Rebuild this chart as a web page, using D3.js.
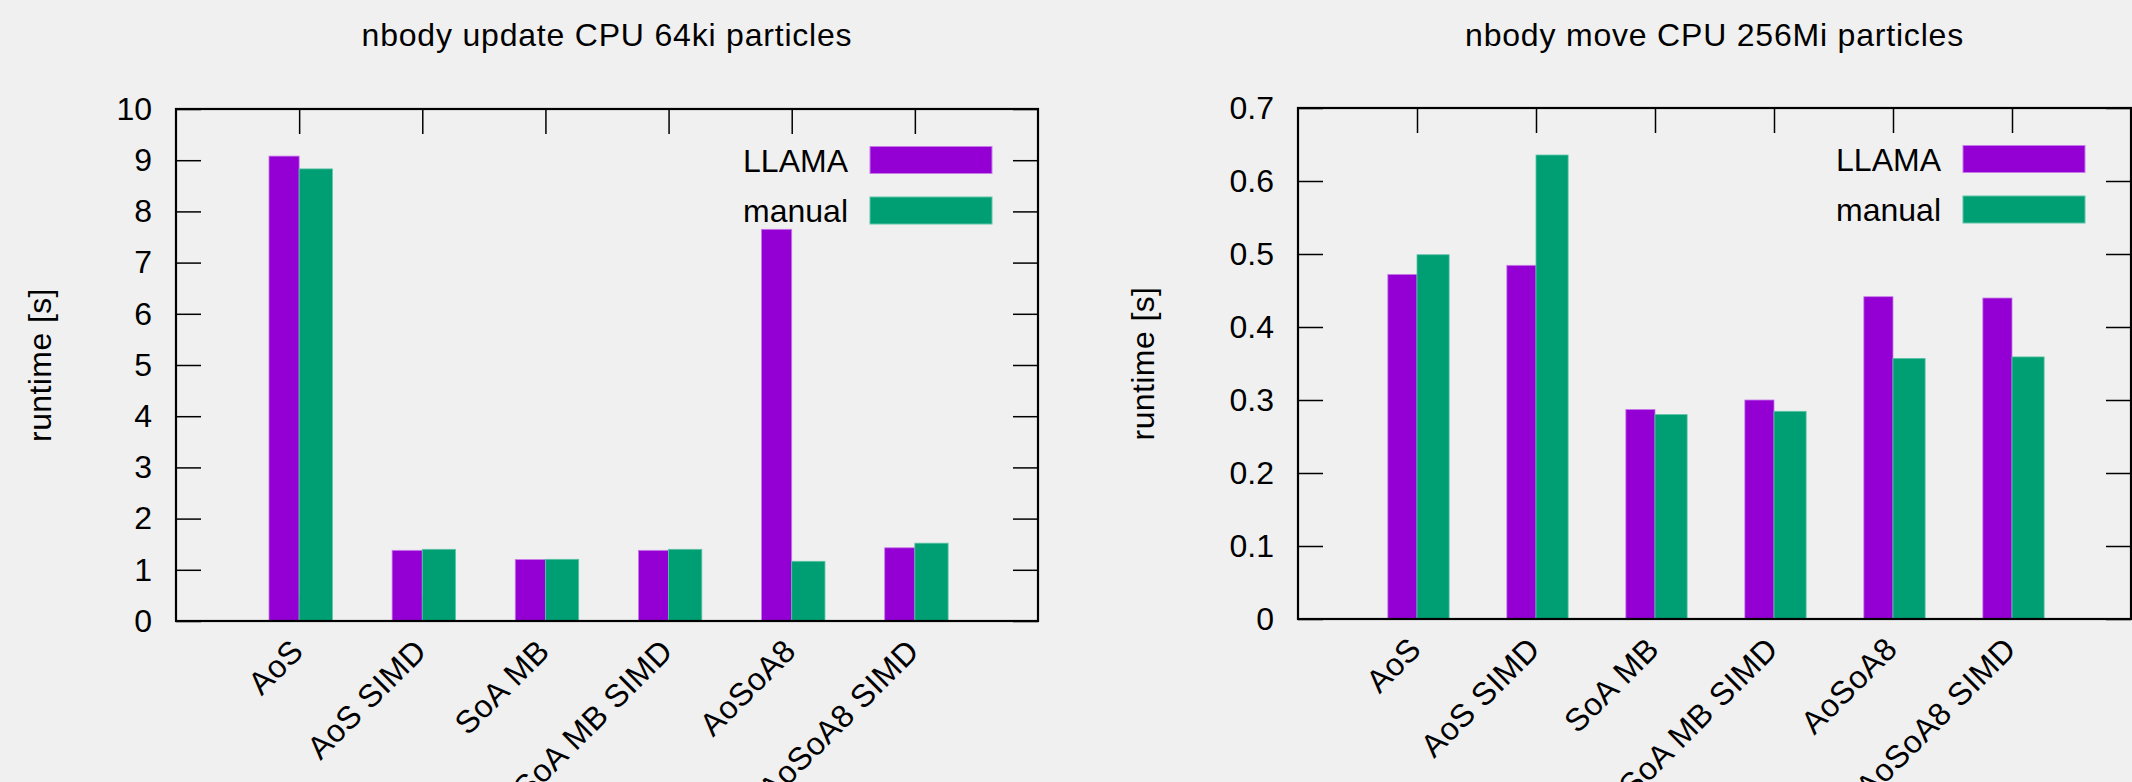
<!DOCTYPE html>
<html>
<head>
<meta charset="utf-8">
<script src="https://cdn.jsdelivr.net/npm/d3@7"></script>
<style>
  html, body { margin: 0; padding: 0; background: #f0f0f0; }
  svg { display: block; }
  text { font-family: "Liberation Sans", Arial, sans-serif; fill: #000; }
</style>
</head>
<body>
<div id="chart"></div>
<script>
// categories on the x axis (same for both panels)
const categories = ["AoS", "AoS SIMD", "SoA MB", "SoA MB SIMD", "AoSoA8", "AoSoA8 SIMD"];
const seriesNames = ["LLAMA", "manual"];

// nbody update, 64ki particles (runtime in s)
const updateLlama  = [9.08, 1.38, 1.20, 1.38, 7.65, 1.43];
const updateManual = [8.83, 1.40, 1.205, 1.40, 1.166, 1.52];

// nbody move, 256Mi particles (runtime in s)
const moveLlama  = [0.472, 0.4845, 0.287, 0.300, 0.4415, 0.4397];
const moveManual = [0.499, 0.6356, 0.280, 0.2845, 0.357, 0.359];

const updateTicks = [0, 1, 2, 3, 4, 5, 6, 7, 8, 9, 10];
const moveTicks = [0, 0.1, 0.2, 0.3, 0.4, 0.5, 0.6, 0.7];

const colors = ["#9400d3", "#009e73"];
const edgeColors = ["#c77be8", "#5cc4a6"];

const W = 2132, H = 782;
const svg = d3.select("#chart").append("svg")
    .attr("width", W)
    .attr("height", H);

svg.append("rect").attr("width", W).attr("height", H).attr("fill", "#f0f0f0");

function drawPanel(cfg) {
    let g = svg.append("g");

    let x = d3.scaleLinear().domain([-1, categories.length]).range([cfg.left, cfg.right]);
    let y = d3.scaleLinear().domain(cfg.yDomain).range([cfg.bottom, cfg.top]);

    // title
    g.append("text")
        .attr("x", (cfg.left + cfg.right) / 2)
        .attr("y", 46)
        .attr("text-anchor", "middle")
        .style("font-size", "32px")
        .style("letter-spacing", "0.8px")
        .text(cfg.title);

    // y label
    g.append("text")
        .attr("transform", `translate(${cfg.ylabelX},${(cfg.top + cfg.bottom) / 2}) rotate(-90)`)
        .attr("text-anchor", "middle")
        .style("font-size", "32px")
        .style("letter-spacing", "0.4px")
        .text("runtime [s]");

    // bottom ticks (hidden behind bars like gnuplot)
    g.append("g")
        .attr("transform", `translate(0,${cfg.bottom})`)
        .call(d3.axisBottom(x).tickValues(d3.range(categories.length)).tickSize(-25).tickFormat(""))
        .call(a => a.select(".domain").remove())
        .call(a => a.selectAll("line").attr("stroke", "#000").attr("stroke-width", 1.5));

    // bars
    let barW = [0.245, 0.27];
    cfg.series.forEach((vals, si) => {
        g.append("g").selectAll("rect")
            .data(vals)
            .join("rect")
            .attr("x", (d, i) => si === 0 ? x(i - barW[0]) : x(i))
            .attr("width", x(barW[si]) - x(0))
            .attr("y", d => y(d))
            .attr("height", d => y(0) - y(d))
            .attr("fill", colors[si])
            .attr("stroke", edgeColors[si])
            .attr("stroke-width", 0.8);
    });

    // y axis left with labels, ticks inward
    let fmt = cfg.tickFormat;
    g.append("g")
        .attr("transform", `translate(${cfg.left},0)`)
        .call(d3.axisLeft(y).tickValues(cfg.yTicks).tickSize(-25).tickPadding(24).tickFormat(fmt))
        .call(a => a.select(".domain").remove())
        .call(a => a.selectAll("line").attr("stroke", "#000").attr("stroke-width", 1.5))
        .call(a => a.selectAll("text").style("font-size", "32px")
            .style("font-family", "'Liberation Sans', Arial, sans-serif").attr("fill", "#000"));

    // mirrored right ticks
    g.append("g")
        .attr("transform", `translate(${cfg.right},0)`)
        .call(d3.axisRight(y).tickValues(cfg.yTicks).tickSize(-25).tickFormat(""))
        .call(a => a.select(".domain").remove())
        .call(a => a.selectAll("line").attr("stroke", "#000").attr("stroke-width", 1.5));

    // mirrored top ticks
    g.append("g")
        .attr("transform", `translate(0,${cfg.top})`)
        .call(d3.axisTop(x).tickValues(d3.range(categories.length)).tickSize(-25).tickFormat(""))
        .call(a => a.select(".domain").remove())
        .call(a => a.selectAll("line").attr("stroke", "#000").attr("stroke-width", 1.5));

    // border
    g.append("rect")
        .attr("x", cfg.left)
        .attr("y", cfg.top)
        .attr("width", cfg.right - cfg.left)
        .attr("height", cfg.bottom - cfg.top)
        .attr("fill", "none")
        .attr("stroke", "#000")
        .attr("stroke-width", 2.2);

    // rotated category labels
    g.append("g").selectAll("text")
        .data(categories)
        .join("text")
        .attr("transform", (d, i) => `translate(${x(i) + 6},${cfg.bottom + 32}) rotate(-45)`)
        .attr("text-anchor", "end")
        .style("font-size", "32px")
        .style("letter-spacing", "0.4px")
        .text(d => d);

    // legend, top right inside the plot
    let legend = g.append("g");
    seriesNames.forEach((name, si) => {
        let cy = cfg.top + 51 + si * 50.5;
        let sx = cfg.right - 168;
        legend.append("rect")
            .attr("x", sx)
            .attr("y", cy - 13.5)
            .attr("width", 122)
            .attr("height", 27)
            .attr("fill", colors[si])
            .attr("stroke", edgeColors[si])
            .attr("stroke-width", 1);
        legend.append("text")
            .attr("x", sx - 22)
            .attr("y", cy + 11.5)
            .attr("text-anchor", "end")
            .style("font-size", "32px")
            .text(name);
    });
}

drawPanel({
    title: "nbody update CPU 64ki particles",
    left: 176, right: 1038, top: 109, bottom: 621,
    ylabelX: 51,
    yDomain: [0, 10],
    yTicks: updateTicks,
    tickFormat: d3.format("d"),
    series: [updateLlama, updateManual]
});

drawPanel({
    title: "nbody move CPU 256Mi particles",
    left: 1298, right: 2131, top: 108, bottom: 619,
    ylabelX: 1154,
    yDomain: [0, 0.7],
    yTicks: moveTicks,
    tickFormat: d => d === 0 ? "0" : d3.format(".1f")(d),
    series: [moveLlama, moveManual]
});
</script>
</body>
</html>
